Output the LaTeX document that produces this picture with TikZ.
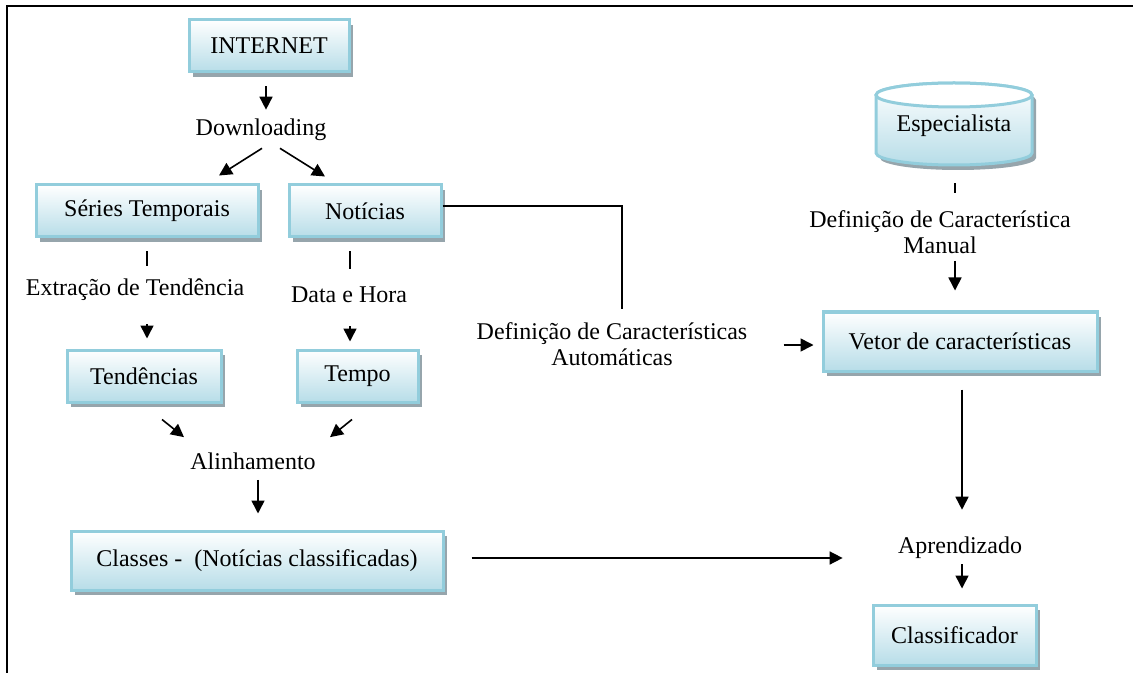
\documentclass[tikz,border=0pt]{standalone}
\usepackage{fontspec}
\setmainfont{Liberation Serif}
\usetikzlibrary{arrows.meta,calc,shadows}
\definecolor{bord}{RGB}{146,205,220}
\definecolor{fillb}{RGB}{183,221,232}
\definecolor{shad}{RGB}{150,165,172}
\begin{document}
\begin{tikzpicture}[x=0.5pt,y=-0.5pt,
  box/.style={draw=bord, line width=1.5pt, top color=white, bottom color=fillb,
    font=\fontsize{12}{14}\selectfont, inner sep=0pt,
    general shadow={fill=shad, shadow xshift=2pt, shadow yshift=-2.5pt}},
  lbl/.style={font=\fontsize{12}{13}\selectfont, inner sep=1pt, align=center},
  arr/.style={line width=0.8pt, -{Triangle[length=6.5pt,width=6.5pt]}},
  ln/.style={line width=0.8pt}]
\useasboundingbox (0,0) rectangle (1133,673);
% frame
\draw[line width=1.2pt] (1133,6) -- (7,6) -- (7,673);

% boxes
\node[box, minimum width=80pt, minimum height=26pt] (internet) at (269,46) {INTERNET};
\node[box, minimum width=111pt, minimum height=26pt] (series) at (147,211) {Séries Temporais};
\node[box, minimum width=76pt, minimum height=26pt] (noticias) at (365,211) {Notícias};
\node[box, minimum width=77pt, minimum height=26pt] (tend) at (144,376) {Tendências};
\node[box, minimum width=60.5pt, minimum height=26pt] (tempo) at (357.5,376) {Tempo};
\node[box, minimum width=186pt, minimum height=29.5pt] (classes) at (257,560.5) {Classes -~ (Notícias classificadas)};
\node[box, minimum width=137pt, minimum height=29.5pt] (vetor) at (960,341.5) {Vetor de características};
\node[box, minimum width=81.5pt, minimum height=30pt] (classif) at (954.5,635) {Classificador};

% cylinder (Especialista)
\begin{scope}[shift={(4,5)}]
\fill[shad] (876,95) -- (876,153) arc[start angle=180, end angle=0, x radius=78, y radius=12]
  -- (1032,95) arc[start angle=0, end angle=-180, x radius=78, y radius=12] -- cycle;
\end{scope}
\draw[bord, line width=1.5pt, top color=white, bottom color=fillb]
  (876,95) -- (876,153) arc[start angle=180, end angle=0, x radius=78, y radius=12]
  -- (1032,95) arc[start angle=0, end angle=-180, x radius=78, y radius=12] -- cycle;
\draw[bord, line width=1.5pt, fill=white] (954,95) ellipse[x radius=78, y radius=12];
\node[minimum width=78pt, minimum height=41pt, inner sep=0pt] (esp) at (954,124) {};
\node[lbl] at (954,126) {Especialista};

% labels
\node[lbl] (down) at (261,130) {Downloading};
\node[lbl] (extr) at (135,290) {Extração de Tendência};
\node[lbl] (data) at (349,295) {Data e Hora};
\node[lbl] (alin) at (253,461) {Alinhamento};
\node[lbl] (defa) at (612,344) {Definição de Características\\Automáticas};
\node[lbl] (defm) at (940,232) {Definição de Característica\\Manual};
\node[lbl] (apr) at (960,548) {Aprendizado};

% connectors
\draw[arr] ($(internet.south)+(-3,13)$) -- ($(down.north)+(5,-7)$);
\draw[arr] ($(down.south)+(1,5)$) -- ($(series.north)+(72,-8)$);
\draw[arr] ($(down.south)+(19,5)$) -- ($(noticias.north)+(-40,-7)$);
\draw[ln] ($(series.south)+(0,13)$) -- ($(series.south)+(0,28)$);
\draw[arr] ($(extr.south)+(12,21)$) -- ($(tend.north)+(3,-10)$);
\draw[ln] ($(noticias.south)+(-15,13)$) -- ($(noticias.south)+(-15,31)$);
\draw[arr] ($(data.south)+(1,21)$) -- ($(tempo.north)+(-7.5,-7)$);
\draw[arr] ($(tend.south)+(18,16)$) -- ($(alin.north)+(-69,-13)$);
\draw[arr] ($(tempo.south)+(-5.5,16)$) -- ($(alin.north)+(77,-13)$);
\draw[arr] ($(alin.south)+(5,8)$) -- ($(classes.north)+(1,-16)$);
\draw[arr] ($(classes.east)+(27,-2.5)$) -- ($(apr.west)+(-53,10)$);
\draw[ln] ($(noticias.east)+(0,-5)$) -| ($(defa.north)+(10,-11)$);
\draw[arr] ($(defa.east)+(34,1)$) -- ($(vetor.west)+(-8,3.5)$);
\draw[ln] ($(esp.south)+(1,18)$) -- ($(esp.south)+(1,28)$);
\draw[arr] ($(defm.south)+(15,5)$) -- ($(vetor.north)+(-5,-20)$);
\draw[arr] ($(vetor.south)+(2,17)$) -- ($(apr.north)+(2,-25)$);
\draw[arr] ($(apr.south)+(2,3)$) -- ($(classif.north)+(7.5,-15)$);
\end{tikzpicture}
\end{document}
